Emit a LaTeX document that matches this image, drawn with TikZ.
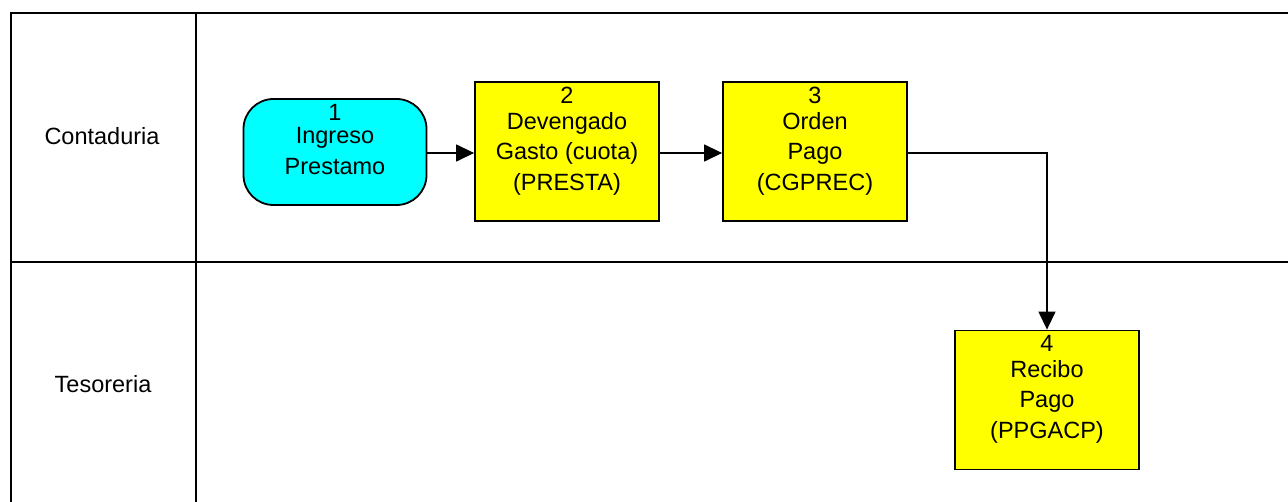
\documentclass[tikz,border=0pt]{standalone}
\usepackage{fontspec}
\setmainfont{Liberation Sans}
\usetikzlibrary{arrows.meta}
\definecolor{procyellow}{RGB}{255,255,0}
\definecolor{startcyan}{RGB}{0,255,255}
\begin{document}
\begin{tikzpicture}[x=1pt,y=-1pt,
  lane/.style={line width=1.6pt,black},
  box/.style={draw=black,line width=1.8pt,fill=procyellow,minimum width=184pt,minimum height=139pt,inner sep=0pt},
  startbox/.style={draw=black,line width=1.8pt,fill=startcyan,rounded corners=30pt,minimum width=183pt,minimum height=106pt,inner sep=0pt},
  txt/.style={font=\fontsize{23.5}{30.5}\selectfont,align=center,inner sep=0pt,anchor=north},
  lanelabel/.style={font=\fontsize{23.5}{26}\selectfont,inner sep=0pt},
  flow/.style={line width=1.3pt,-{Triangle[length=18pt,width=17pt]}}
]
\useasboundingbox (0,0) rectangle (1288,502);
% lanes
\coordinate (tl) at (11,13);
\coordinate (tr) at (1288,13);
\coordinate (bl) at (11,502);
\coordinate (dt) at (196,13);
\coordinate (db) at (196,502);
\coordinate (ml) at (11,262);
\coordinate (mr) at (1288,262);
\draw[lane] (tr) -- (tl) -- (bl);
\draw[lane] (dt) -- (db);
\draw[line width=1.2pt] (ml) -- (mr);
\node[lanelabel] (l1) at (102,136) {Contaduria};
\node[lanelabel] (l2) at (103,384) {Tesoreria};
% nodes
\node[startbox] (n1) at (335,152) {};
\node[txt] (t1) at (335,104) {1\\[-7pt]Ingreso\\Prestamo};
\node[box] (n2) at (567,151.5) {};
\node[txt] (t2) at (567,87) {2\\[-5pt]Devengado\\Gasto (cuota)\\(PRESTA)};
\node[box] (n3) at (815,151.5) {};
\node[txt] (t3) at (815,87) {3\\[-5pt]Orden\\Pago\\(CGPREC)};
\node[box] (n4) at (1047,400) {};
\node[txt] (t4) at (1047,335.5) {4\\[-5pt]Recibo\\Pago\\(PPGACP)};
% connectors
\draw[flow] (n1.east |- 0,153) -- (n2.west |- 0,153);
\draw[flow] (n2.east |- 0,153) -- (n3.west |- 0,153);
\draw[flow] (n3.east |- 0,153) -| (n4.north);
\end{tikzpicture}
\end{document}
